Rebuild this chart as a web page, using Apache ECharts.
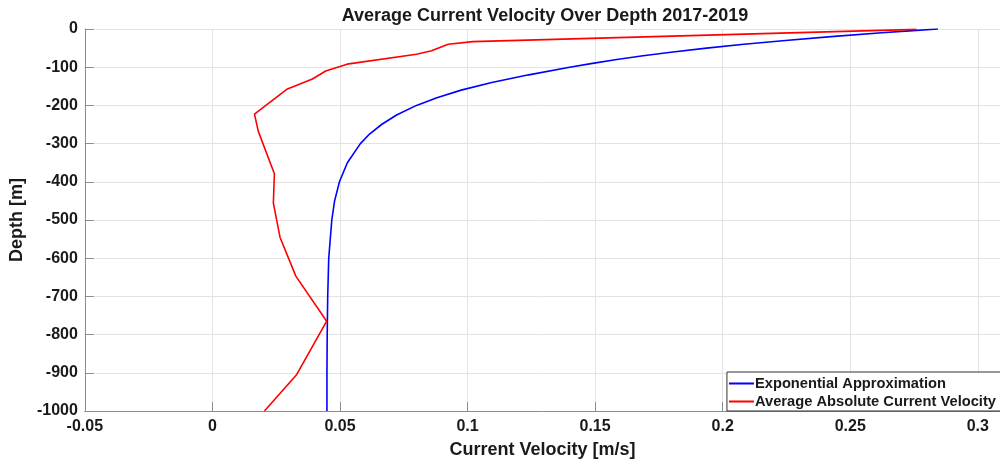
<!DOCTYPE html>
<html>
<head>
<meta charset="utf-8">
<script src="https://cdn.jsdelivr.net/npm/echarts@6/dist/echarts.min.js"></script>
<style>
  html, body { margin: 0; padding: 0; background: #fff; }
  #chart { width: 1000px; height: 464px; }
</style>
</head>
<body>
<div id="chart"></div>
<script>
// Depth profiles of current speed, 2017-2019
const seriesNames = ['Exponential Approximation', 'Average Absolute Current Velocity'];

// Exponential fit: depth [m] and velocity [m/s]
const expDepth = [0, -5, -10, -20, -30, -40, -50, -60, -70, -80, -90, -100, -120, -140, -160, -180, -200, -225, -250, -275, -300, -350, -400, -450, -500, -600, -700, -800, -900, -1000];
const expVel   = [0.2844, 0.2731, 0.2624, 0.2425, 0.2246, 0.2083, 0.1937, 0.1805, 0.1688, 0.1585, 0.1490, 0.1400, 0.1240, 0.1095, 0.0975, 0.0880, 0.0800, 0.0722, 0.0663, 0.0616, 0.0580, 0.0529, 0.0498, 0.0479, 0.0468, 0.0456, 0.0452, 0.0450, 0.0449, 0.0449];

// Measured average absolute velocity: depth [m] and velocity [m/s]
const avgDepth = [-1, -33, -40, -57, -66, -92, -110, -131, -157, -223, -268, -379, -456, -545, -647, -765, -906, -1000];
const avgVel   = [0.276, 0.102, 0.0924, 0.0859, 0.080, 0.0528, 0.0444, 0.0392, 0.0294, 0.0165, 0.018, 0.0243, 0.0239, 0.0265, 0.0327, 0.0448, 0.0329, 0.0204];

// Axis ranges and tick steps
const xMin = -0.05, xMax = 0.3087, xStep = 0.05;
const yMin = -1000, yMax = 0, yStep = 100;

const pairs = (xs, ys) => xs.map((v, i) => [v, ys[i]]);

const font = 'Liberation Sans, Arial, Helvetica, sans-serif';
const ink = '#1a1a1a';
const axisGray = '#8c8c8c';

const chart = echarts.init(document.getElementById('chart'), null, { renderer: 'canvas' });
chart.setOption({
  backgroundColor: '#ffffff',
  animation: false,
  title: {
    text: 'Average Current Velocity Over Depth 2017-2019',
    left: 540,
    textAlign: 'center',
    top: 2,
    textStyle: { fontFamily: font, fontWeight: 'bold', fontSize: 18, color: ink }
  },
  grid: { left: 79, right: 0, top: 29, bottom: 52.5, containLabel: false },
  legend: {
    orient: 'vertical',
    right: -2,
    bottom: 53,
    backgroundColor: '#ffffff',
    borderColor: '#333333',
    borderWidth: 1,
    borderRadius: 0,
    padding: [4, 6, 2, 2],
    itemGap: 3,
    itemWidth: 25,
    itemHeight: 2,
    icon: 'rect',
    textStyle: { fontFamily: font, fontWeight: 'bold', fontSize: 14.7, color: ink, padding: [0, 0, 0, -4] },
    data: seriesNames
  },
  xAxis: {
    type: 'value',
    min: xMin, max: xMax, interval: xStep,
    name: 'Current Velocity [m/s]',
    nameLocation: 'middle',
    nameGap: 30,
    nameTextStyle: { fontFamily: font, fontWeight: 'bold', fontSize: 18, color: ink },
    axisLine: { show: true, onZero: false, lineStyle: { color: axisGray, width: 1 } },
    axisTick: { show: true, inside: true, length: 9, lineStyle: { color: axisGray } },
    axisLabel: {
      fontFamily: font, fontWeight: 'bold', fontSize: 16, color: ink, margin: 8,
      showMaxLabel: false,
      formatter: v => String(Math.round(v * 1000) / 1000)
    },
    splitLine: { show: true, lineStyle: { color: '#e3e3e3', width: 1 } }
  },
  yAxis: {
    type: 'value',
    min: yMin, max: yMax, interval: yStep,
    name: 'Depth [m]',
    nameLocation: 'middle',
    nameGap: 47,
    nameTextStyle: { fontFamily: font, fontWeight: 'bold', fontSize: 18, color: ink },
    axisLine: { show: true, onZero: false, lineStyle: { color: axisGray, width: 1 } },
    axisTick: { show: true, inside: true, length: 9, lineStyle: { color: axisGray } },
    axisLabel: {
      fontFamily: font, fontWeight: 'bold', fontSize: 16, color: ink, margin: 7,
      formatter: v => String(v)
    },
    splitLine: { show: true, lineStyle: { color: '#e3e3e3', width: 1 } }
  },
  series: [
    {
      name: seriesNames[0],
      type: 'line',
      data: pairs(expVel, expDepth),
      showSymbol: false,
      smooth: false,
      color: '#0000ff',
      lineStyle: { color: '#0000ff', width: 1.6 },
      z: 3
    },
    {
      name: seriesNames[1],
      type: 'line',
      data: pairs(avgVel, avgDepth),
      showSymbol: false,
      smooth: false,
      color: '#ff0000',
      lineStyle: { color: '#ff0000', width: 1.6 },
      z: 4
    }
  ]
});
</script>
</body>
</html>
